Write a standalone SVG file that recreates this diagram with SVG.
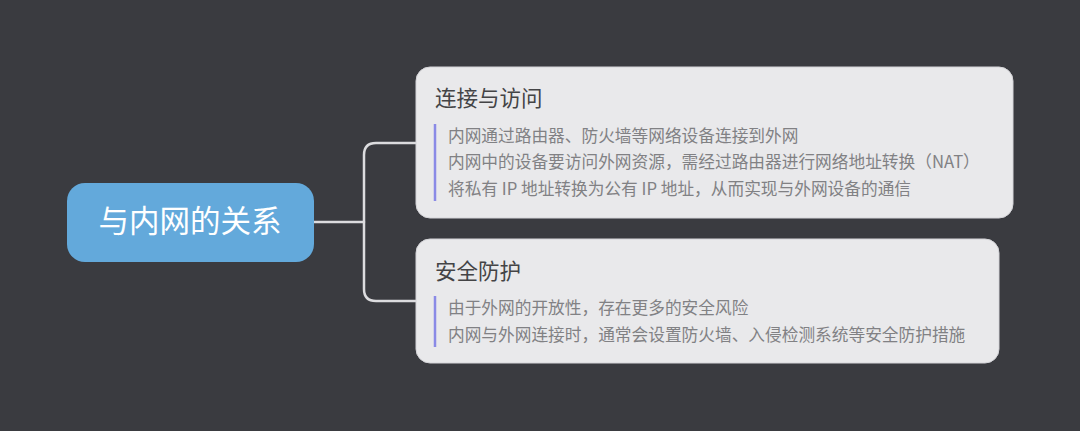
<svg xmlns="http://www.w3.org/2000/svg" width="1080" height="431" viewBox="0 0 1080 431">
  <style>
    .card { fill: #e9e9eb; stroke: #d4d4d8; stroke-width: 1; }
    .title { font-family: "Noto Sans CJK SC", "Noto Sans", sans-serif; font-size: 21.5px; fill: #444446; }
    .body { font-family: "Noto Sans CJK SC", "Noto Sans", sans-serif; font-size: 16.7px; fill: #818184; }
    .bar { stroke: #8a8ae6; stroke-width: 2.5; }
    .conn { fill: none; stroke: #dcdcdf; stroke-width: 2.5; stroke-linecap: round; }
  </style>
  <rect width="1080" height="431" fill="#3a3b40"/>
  <g id="connectors">
    <path class="conn" d="M314,222 H364"/>
    <path class="conn" d="M416,143 H376 Q364,143 364,155 V289 Q364,301 376,301 H416"/>
  </g>
  <g id="root">
    <rect x="67" y="183" width="247" height="79" rx="18" fill="#63a9db"/>
    <text x="190" y="231.5" text-anchor="middle" font-family="'Noto Sans CJK SC', 'Noto Sans', sans-serif" font-size="30.5" fill="#ffffff">与内网的关系</text>
  </g>
  <g id="node-connect">
    <rect class="card" x="416" y="67" width="597" height="151" rx="14"/>
    <text class="title" x="435" y="106">连接与访问</text>
    <line class="bar" x1="435" y1="124" x2="435" y2="201"/>
    <text class="body" x="448" y="141.5">内网通过路由器、防火墙等网络设备连接到外网</text>
    <text class="body" x="448" y="168">内网中的设备要访问外网资源，需经过路由器进行网络地址转换（NAT）</text>
    <text class="body" x="448" y="194.5">将私有 IP 地址转换为公有 IP 地址，从而实现与外网设备的通信</text>
  </g>
  <g id="node-security">
    <rect class="card" x="416" y="239" width="583" height="124" rx="14"/>
    <text class="title" x="435" y="279">安全防护</text>
    <line class="bar" x1="435" y1="296" x2="435" y2="347"/>
    <text class="body" x="448" y="314">由于外网的开放性，存在更多的安全风险</text>
    <text class="body" x="448" y="341">内网与外网连接时，通常会设置防火墙、入侵检测系统等安全防护措施</text>
  </g>
</svg>
